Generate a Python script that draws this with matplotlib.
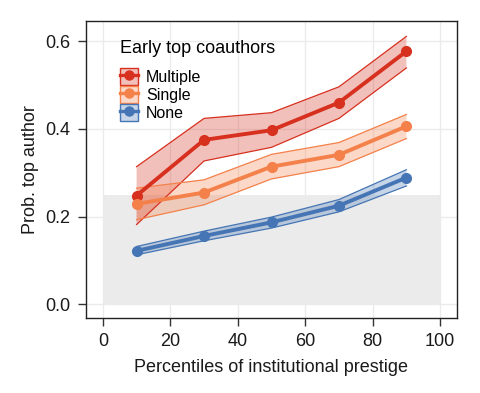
import matplotlib
matplotlib.use("Agg")
import matplotlib.pyplot as plt
from matplotlib.patches import Patch
from matplotlib.lines import Line2D
from matplotlib.legend_handler import HandlerTuple

plt.rcParams['font.family'] = ['Liberation Sans', 'DejaVu Sans']

x = [10, 30, 50, 70, 90]
groups = ["Multiple", "Single", "None"]
colors = {"Multiple": "#d7301f", "Single": "#f4804a", "None": "#4575b4"}
mean = {
    "Multiple": [0.248, 0.375, 0.397, 0.460, 0.577],
    "Single":   [0.229, 0.255, 0.314, 0.341, 0.406],
    "None":     [0.122, 0.156, 0.187, 0.225, 0.289],
}
upper = {
    "Multiple": [0.314, 0.424, 0.437, 0.496, 0.611],
    "Single":   [0.265, 0.284, 0.342, 0.369, 0.433],
    "None":     [0.132, 0.167, 0.199, 0.239, 0.307],
}
lower = {
    "Multiple": [0.182, 0.327, 0.358, 0.424, 0.539],
    "Single":   [0.193, 0.227, 0.286, 0.314, 0.378],
    "None":     [0.113, 0.145, 0.174, 0.211, 0.270],
}
shade_x = [0, 100]
shade_top = 0.25

fig = plt.figure(figsize=(4.8, 3.93), dpi=100)
ax = fig.add_axes([86/480, 1-318/393, (457-86)/480, (318-21)/393])

ax.fill_between(shade_x, 0, shade_top, color="#ebebeb", lw=0, zorder=1)

handles = []
for g in groups:
    c = colors[g]
    ax.fill_between(x, lower[g], upper[g], facecolor=c, alpha=0.3, edgecolor="none", zorder=2)
    ax.plot(x, upper[g], color=c, lw=0.9, zorder=3)
    ax.plot(x, lower[g], color=c, lw=0.9, zorder=3)
    ax.plot(x, mean[g], color=c, lw=2.8, marker="o", ms=7, zorder=4)
    handles.append((Patch(facecolor=c, alpha=0.3, edgecolor="none"),
                    Patch(facecolor="none", edgecolor=c, lw=1.0),
                    Line2D([], [], color=c, lw=2.4, marker="o", ms=6.5)))

leg = ax.legend(handles=handles, labels=groups, title="Early top coauthors",
          loc="upper left", bbox_to_anchor=(0.071, 0.962), frameon=False,
          fontsize=11.5, title_fontsize=13, handlelength=1.1, handleheight=1.25,
          handletextpad=0.5, labelspacing=0.05, alignment="left",
          borderpad=0.0,
          handler_map={tuple: HandlerTuple(ndivide=1, pad=0)})
leg._legend_box.sep = 8

ax.set_xlim(-5, 105)
ax.set_ylim(-0.031, 0.646)
ax.set_xticks([0, 20, 40, 60, 80, 100])
ax.set_yticks([0.0, 0.2, 0.4, 0.6])
ax.set_yticklabels(["0.0", "0.2", "0.4", "0.6"])
ax.grid(True, color="#ebebeb", lw=1.0, zorder=0)
ax.set_axisbelow(True)
for s in ax.spines.values():
    s.set_color("#222222")
    s.set_linewidth(1.0)
ax.tick_params(axis="both", labelsize=13, colors="#333333", length=5.5, width=1.0,
               pad=5.5, labelcolor="#1a1a1a")
ax.set_xlabel("Percentiles of institutional prestige", fontsize=13, color="#1a1a1a", labelpad=6.5)
ax.set_ylabel("Prob. top author", fontsize=13, color="#1a1a1a", labelpad=5)

fig.savefig("out.png", dpi=100)
